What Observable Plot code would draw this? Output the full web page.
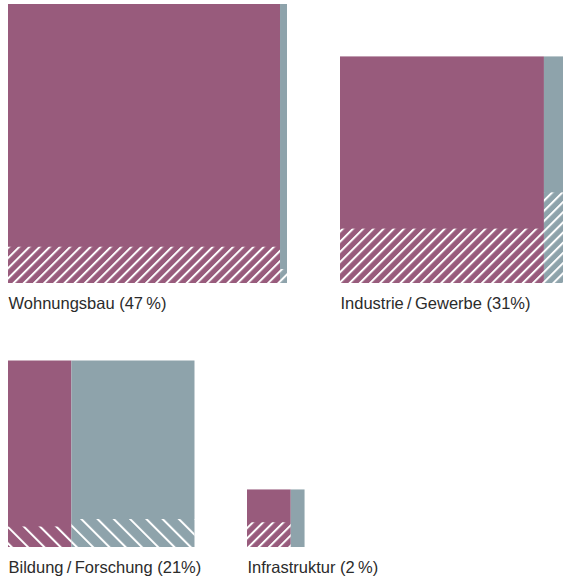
<!DOCTYPE html>
<html>
<head>
<meta charset="utf-8">
<script src="https://cdn.jsdelivr.net/npm/d3@7"></script>
<script src="https://cdn.jsdelivr.net/npm/@observablehq/plot@0.6"></script>
<style>
  html, body { margin: 0; padding: 0; background: #fff; }
  #chart svg { display: block; }
</style>
</head>
<body>
<div id="chart"></div>
<script>
// --- data ---
const sectors = ["Wohnungsbau", "Industrie\u2009/\u2009Gewerbe", "Bildung\u2009/\u2009Forschung", "Infrastruktur"];
const shares = [47, 31, 21, 2];                 // % of total (area of square)
const firstPartWidth = [0.975, 0.90, 0.34, 0.76]; // magenta part, share of width
const firstPartHatch = [0.13, 0.24, 0.11, 0.43];  // hatched height, magenta part
const secondPartHatch = [0.05, 0.40, 0.15, 0.0];  // hatched height, grey-blue part
const labelPct = ["47\u2009%", "31%", "21%", "2\u2009%"];

// --- layout & style ---
const W = 563, H = 578;
const sideFor47 = 279;
const k = sideFor47 / Math.sqrt(47);
const anchors = [
  {x: 8, bottom: 283}, {x: 340, bottom: 283},
  {x: 8, bottom: 547}, {x: 247, bottom: 547}
];
const hatchStyle = ["url(#hatchA)", "url(#hatchA)", "url(#hatchB)", "url(#hatchA)"];
const C1 = "#985b7c", C2 = "#8ea3ab";

const rects = [], hatches = [], labels = [];
sectors.forEach((name, i) => {
  const s = k * Math.sqrt(shares[i]);
  const {x, bottom} = anchors[i];
  const xm = x + s * firstPartWidth[i];
  rects.push({x1: x, x2: xm, y1: bottom - s, y2: bottom, fill: C1});
  rects.push({x1: xm, x2: x + s, y1: bottom - s, y2: bottom, fill: C2});
  if (firstPartHatch[i] > 0) hatches.push({x1: x, x2: xm, y1: bottom - s * firstPartHatch[i], y2: bottom, fill: hatchStyle[i]});
  if (secondPartHatch[i] > 0) hatches.push({x1: xm, x2: x + s, y1: bottom - s * secondPartHatch[i], y2: bottom, fill: hatchStyle[i]});
  labels.push({x, y: bottom + 20, text: `${name} (${labelPct[i]})`});
});

const chart = Plot.plot({
  width: W, height: H, margin: 0,
  x: {domain: [0, W], range: [0, W], axis: null},
  y: {domain: [0, H], range: [0, H], axis: null},
  color: {type: "identity"},
  style: {background: "#fff"},
  marks: [
    Plot.rect(rects, {x1: "x1", x2: "x2", y1: "y1", y2: "y2", fill: "fill"}),
    Plot.rect(hatches, {x1: "x1", x2: "x2", y1: "y1", y2: "y2", fill: "fill"}),
    Plot.text(labels, {x: "x", y: "y", text: "text", textAnchor: "start", lineAnchor: "middle",
      fontSize: 16.5, fill: "#2b2b2b", fontFamily: "Liberation Sans, Arial, sans-serif"})
  ]
});

d3.select(chart).insert("defs", ":first-child").html(`
  <pattern id="hatchA" patternUnits="userSpaceOnUse" width="7.2" height="7.2" patternTransform="rotate(45)">
    <rect x="0" y="0" width="2" height="7.2" fill="#fff"/>
  </pattern>
  <pattern id="hatchB" patternUnits="userSpaceOnUse" width="11.5" height="11.5" patternTransform="rotate(-45)">
    <rect x="0" y="0" width="2" height="11.5" fill="#fff"/>
  </pattern>
`);
document.getElementById("chart").appendChild(chart);
</script>
</body>
</html>
